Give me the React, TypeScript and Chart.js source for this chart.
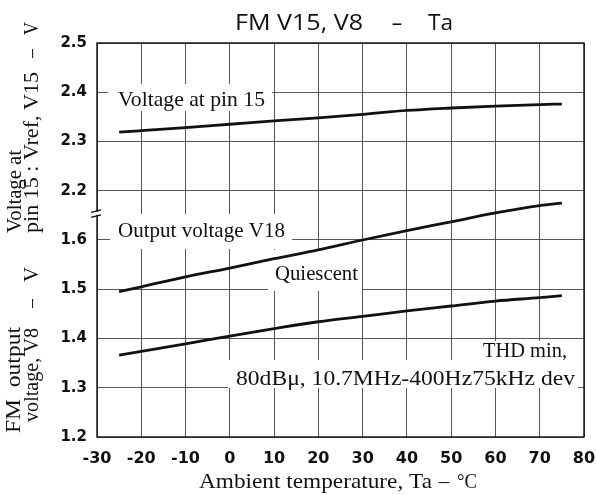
import React, { useEffect, useRef } from "react";
import { Chart, registerables } from "chart.js";

Chart.register(...registerables);

// ---- data ----
const temps = [-25, -20, -10, 0, 10, 20, 30, 40, 50, 60, 70, 75];
const pin15Voltage = [2.319, 2.322, 2.328, 2.335, 2.342, 2.348, 2.355, 2.363, 2.368, 2.372, 2.375, 2.376];
const outputV18 = [1.495, 1.505, 1.525, 1.543, 1.562, 1.58, 1.6, 1.619, 1.637, 1.655, 1.67, 1.675];
const thdMinV8 = [1.366, 1.374, 1.389, 1.405, 1.42, 1.434, 1.445, 1.456, 1.466, 1.476, 1.483, 1.487];
const yTickLabels = ["1.2", "1.3", "1.4", "1.5", "1.6", "2.2", "2.3", "2.4", "2.5"];
// the axis is broken between 1.6 and 2.2: upper values are shifted down by this amount
const BREAK_SHIFT = 0.5;

const SERIF = "'Liberation Serif', 'Times New Roman', serif";
const TICK_FONT = "'DejaVu Sans', sans-serif";
const TITLE_FONT = "'Open Sans', 'Noto Sans', sans-serif";
const INK = "#111";

// draw text stretched horizontally so it spans [x0, x1] (layout matching only)
function fitText(ctx: CanvasRenderingContext2D, text: string, x0: number, x1: number, y: number) {
  const w = ctx.measureText(text).width;
  const sx = (x1 - x0) / w;
  ctx.save();
  ctx.translate(x0, y);
  ctx.scale(sx, 1);
  ctx.textAlign = "left";
  ctx.fillText(text, 0, 0);
  ctx.restore();
}

function boxText(ctx: CanvasRenderingContext2D, box: number[], text: string, x0: number, x1: number, y: number) {
  ctx.fillStyle = "#fff";
  ctx.fillRect(box[0], box[1], box[2] - box[0], box[3] - box[1]);
  ctx.fillStyle = INK;
  fitText(ctx, text, x0, x1, y);
}

// rotated text reading bottom-to-top, from yStart (bottom) to yEnd (top), baseline at x
function rotText(ctx: CanvasRenderingContext2D, text: string, x: number, yStart: number, yEnd: number) {
  ctx.save();
  ctx.translate(x, yStart);
  ctx.rotate(-Math.PI / 2);
  fitText(ctx, text, 0, yStart - yEnd, 0);
  ctx.restore();
}

const decorPlugin = {
  id: "decor",
  beforeDatasetsDraw(chart: any) {
    const ctx: CanvasRenderingContext2D = chart.ctx;
    ctx.save();
    ctx.font = `21px ${SERIF}`;
    ctx.textBaseline = "alphabetic";
    boxText(ctx, [108, 84, 272, 111], "Voltage at pin 15", 118, 265, 106);
    boxText(ctx, [110, 214, 292, 249], "Output voltage V18", 118, 285, 237);
    boxText(ctx, [268, 250, 362, 291], "Quiescent", 275, 358, 280);
    ctx.font = `20px ${SERIF}`;
    boxText(ctx, [476, 341, 578, 362], "THD min,", 483, 567, 357);
    boxText(ctx, [228, 360, 578, 388], "80dB\u03bc, 10.7MHz-400Hz75kHz dev", 236, 575, 385);
    ctx.restore();
  },
  afterDraw(chart: any) {
    const ctx: CanvasRenderingContext2D = chart.ctx;
    const a = chart.chartArea;
    ctx.save();
    // frame
    ctx.strokeStyle = INK;
    ctx.lineWidth = 1.4;
    ctx.strokeRect(a.left, a.top, a.right - a.left, a.bottom - a.top);
    // axis break mark
    const yb = (chart.scales.y.getPixelForValue(1.6) + chart.scales.y.getPixelForValue(1.7)) / 2 - 2;
    ctx.fillStyle = "#fff";
    ctx.fillRect(a.left - 2, yb - 1.5, 4, 3);
    ctx.lineWidth = 1.5;
    ctx.beginPath();
    ctx.moveTo(a.left - 6, yb - 1);
    ctx.lineTo(a.left + 4, yb - 3.5);
    ctx.moveTo(a.left - 6, yb + 4);
    ctx.lineTo(a.left + 4, yb + 1.5);
    ctx.stroke();

    // title
    ctx.fillStyle = INK;
    ctx.font = `21px ${TITLE_FONT}`;
    ctx.textBaseline = "alphabetic";
    fitText(ctx, "FM V15, V8", 235, 363, 30);
    ctx.textAlign = "center";
    ctx.fillText("\u2013", 397, 30);
    fitText(ctx, "Ta", 428, 453, 30);

    // x axis title
    ctx.font = `21px ${SERIF}`;
    fitText(ctx, "Ambient temperature, Ta", 199, 432, 488);
    ctx.textAlign = "center";
    ctx.fillText("\u2013", 444, 488);
    fitText(ctx, "\u00b0C", 457, 477, 488);

    // y axis titles (rotated)
    rotText(ctx, "Voltage at", 21, 233, 150);
    rotText(ctx, "pin 15 : Vref, V15", 38, 233, 72);
    rotText(ctx, "\u2013", 38, 58, 49);
    rotText(ctx, "V", 38, 35, 22);

    rotText(ctx, "FM  output", 20, 433, 327);
    rotText(ctx, "voltage, V8", 38, 422, 328);
    rotText(ctx, "\u2013", 38, 308, 299);
    rotText(ctx, "V", 38, 282, 267);
    ctx.restore();
  },
};

function series(values: number[], shift: number) {
  return temps.map((t, i) => ({ x: t, y: values[i] - shift }));
}

export default function App() {
  const ref = useRef<HTMLCanvasElement | null>(null);
  useEffect(() => {
    document.body.style.margin = "0";
    const line = {
      borderColor: INK,
      borderWidth: 2.8,
      pointRadius: 0,
      cubicInterpolationMode: "monotone" as const,
      fill: false,
    };
    const chart = new Chart(ref.current as HTMLCanvasElement, {
      type: "line",
      data: {
        datasets: [
          { label: "Voltage at pin 15", data: series(pin15Voltage, BREAK_SHIFT), ...line },
          { label: "Output voltage V18 (Quiescent)", data: series(outputV18, 0), ...line },
          { label: "FM output V8 (THD min)", data: series(thdMinV8, 0), ...line },
        ],
      },
      options: {
        animation: false,
        responsive: true,
        maintainAspectRatio: false,
        layout: { padding: { top: 43, right: 12, bottom: 0, left: 0 } },
        plugins: { legend: { display: false }, tooltip: { enabled: false }, title: { display: false } },
        scales: {
          x: {
            type: "linear",
            min: -30,
            max: 80,
            afterFit: (s: any) => {
              s.height = 58;
              s.paddingRight = 10;
              s.paddingLeft = 0;
            },
            ticks: {
              stepSize: 10,
              color: INK,
              padding: 12,
              font: { family: TICK_FONT, size: 16, weight: "bold" },
              callback: (v: any) => String(v),
            },
            grid: { color: "#444", lineWidth: 0.9, drawTicks: false },
            border: { display: false },
          },
          y: {
            type: "linear",
            min: 1.2,
            max: 2.0,
            afterFit: (s: any) => {
              s.width = 97;
            },
            ticks: {
              stepSize: 0.1,
              color: INK,
              padding: 10,
              font: { family: TICK_FONT, size: 15, weight: "bold" },
              callback: (_v: any, i: number) => yTickLabels[i],
            },
            grid: { color: "#444", lineWidth: 0.9, drawTicks: false },
            border: { display: false },
          },
        },
      },
      plugins: [decorPlugin],
    });
    return () => chart.destroy();
  }, []);
  return (
    <div style={{ position: "absolute", left: 0, top: 0, width: 596, height: 495, background: "#fff" }}>
      <canvas ref={ref} />
    </div>
  );
}
